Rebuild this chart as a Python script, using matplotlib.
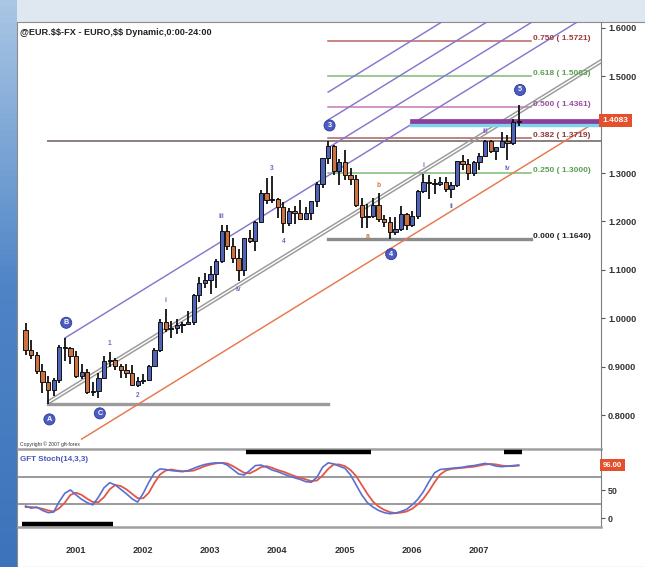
import numpy as np
import matplotlib.pyplot as plt
from matplotlib.patches import Rectangle
from matplotlib.colors import LinearSegmentedColormap
from matplotlib.transforms import blended_transform_factory

# ----------------------------
# Data (monthly EUR/USD, Jun 2000 .. Oct 2007)
# ----------------------------
START_YEAR, START_MONTH = 2000, 6

OPEN = [0.9750, 0.9350, 0.9250, 0.8900, 0.8680, 0.8510, 0.8720, 0.9400, 0.9380, 0.9220,
        0.8800, 0.8880, 0.8470, 0.8490, 0.8770, 0.9120, 0.9130, 0.9010, 0.8920, 0.8860,
        0.8610, 0.8700, 0.8720, 0.9020, 0.9340, 0.9920, 0.9770, 0.9800, 0.9870, 0.9890,
        0.9930, 1.0490, 1.0730, 1.0780, 1.0910, 1.1180, 1.1800, 1.1500, 1.1240, 1.0990,
        1.1650, 1.1590, 1.1990, 1.2590, 1.2440, 1.2470, 1.2300, 1.1970, 1.2210, 1.2170,
        1.2040, 1.2170, 1.2420, 1.2770, 1.3300, 1.3560, 1.3040, 1.3230, 1.2960, 1.2880,
        1.2330, 1.2100, 1.2120, 1.2340, 1.2050, 1.1990, 1.1790, 1.1840, 1.2160, 1.1920,
        1.2110, 1.2630, 1.2810, 1.2790, 1.2770, 1.2810, 1.2670, 1.2760, 1.3250, 1.3190,
        1.3010, 1.3230, 1.3360, 1.3660, 1.3450, 1.3530, 1.3670, 1.3630, 1.4050]
HIGH = [0.9900, 0.9550, 0.9300, 0.9050, 0.8800, 0.8770, 0.9450, 0.9590, 0.9400, 0.9320,
        0.9050, 0.8960, 0.8680, 0.8870, 0.9210, 0.9310, 0.9170, 0.9060, 0.9060, 0.9040,
        0.8780, 0.8850, 0.9030, 0.9390, 0.9990, 1.0190, 0.9950, 0.9980, 0.9920, 1.0140,
        1.0500, 1.0860, 1.0930, 1.1080, 1.1230, 1.1930, 1.1930, 1.1650, 1.1440, 1.1650,
        1.1820, 1.2010, 1.2650, 1.2900, 1.2930, 1.2480, 1.2400, 1.2270, 1.2320, 1.2440,
        1.2290, 1.2430, 1.2820, 1.3320, 1.3667, 1.3580, 1.3280, 1.3470, 1.3100, 1.2960,
        1.2480, 1.2370, 1.2480, 1.2580, 1.2140, 1.2090, 1.2100, 1.2320, 1.2180, 1.2210,
        1.2640, 1.2980, 1.2950, 1.2880, 1.2910, 1.2920, 1.2810, 1.3250, 1.3365, 1.3290,
        1.3240, 1.3420, 1.3680, 1.3680, 1.3530, 1.3850, 1.3790, 1.4120, 1.4400]
LOW = [0.9250, 0.9150, 0.8850, 0.8460, 0.8225, 0.8400, 0.8660, 0.9120, 0.9050, 0.8770,
       0.8740, 0.8440, 0.8400, 0.8350, 0.8750, 0.8990, 0.8920, 0.8760, 0.8760, 0.8600,
       0.8570, 0.8650, 0.8720, 0.8990, 0.9300, 0.9710, 0.9600, 0.9680, 0.9700, 0.9860,
       0.9870, 1.0340, 1.0620, 1.0500, 1.0620, 1.1150, 1.1400, 1.1150, 1.0760, 1.0870,
       1.1560, 1.1390, 1.1970, 1.2350, 1.2380, 1.2080, 1.1760, 1.1900, 1.1950, 1.2020,
       1.2040, 1.2020, 1.2290, 1.2700, 1.3180, 1.2950, 1.2760, 1.2850, 1.2750, 1.2300,
       1.1870, 1.1870, 1.2070, 1.1990, 1.1880, 1.1640, 1.1710, 1.1800, 1.1820, 1.1880,
       1.2060, 1.2580, 1.2460, 1.2560, 1.2740, 1.2610, 1.2480, 1.2710, 1.3070, 1.2860,
       1.2930, 1.3070, 1.3330, 1.3410, 1.3260, 1.3530, 1.3260, 1.3570, 1.3980]
CLOSE = [0.9350, 0.9250, 0.8900, 0.8680, 0.8510, 0.8720, 0.9400, 0.9380, 0.9220, 0.8800,
         0.8880, 0.8470, 0.8490, 0.8770, 0.9120, 0.9130, 0.9010, 0.8920, 0.8860, 0.8610,
         0.8700, 0.8720, 0.9020, 0.9340, 0.9920, 0.9770, 0.9800, 0.9870, 0.9890, 0.9930,
         1.0490, 1.0730, 1.0780, 1.0910, 1.1180, 1.1800, 1.1500, 1.1240, 1.0990, 1.1650,
         1.1590, 1.1990, 1.2590, 1.2440, 1.2470, 1.2300, 1.1970, 1.2210, 1.2170, 1.2040,
         1.2170, 1.2420, 1.2770, 1.3300, 1.3560, 1.3040, 1.3230, 1.2960, 1.2880, 1.2330,
         1.2100, 1.2120, 1.2340, 1.2050, 1.1990, 1.1790, 1.1840, 1.2160, 1.1920, 1.2110,
         1.2630, 1.2810, 1.2790, 1.2770, 1.2810, 1.2670, 1.2760, 1.3250, 1.3190, 1.3010,
         1.3230, 1.3360, 1.3660, 1.3450, 1.3530, 1.3670, 1.3630, 1.4050, 1.4083]

# GFT Stoch(14,3,3)
STOCH_K = [22, 18, 20, 14, 10, 11, 30, 45, 51, 42, 34, 28, 24, 38, 55, 64, 60, 52, 44, 35,
           29, 45, 65, 82, 89, 88, 86, 85, 84, 86, 90, 94, 97, 99, 100, 100, 96, 88, 80, 78,
           86, 95, 96, 92, 87, 84, 80, 76, 73, 70, 66, 65, 74, 92, 100, 98, 94, 90, 78, 60,
           42, 28, 20, 14, 10, 8, 9, 12, 16, 24, 34, 48, 66, 82, 88, 89, 90, 91, 92, 94,
           95, 97, 99, 97, 94, 93, 94, 95, 96]
STOCH_D = [20, 20, 19, 17, 14, 12, 18, 28, 42, 46, 42, 35, 29, 29, 38, 52, 60, 58, 52, 44,
           36, 36, 46, 64, 79, 86, 88, 86, 85, 85, 86, 90, 94, 97, 99, 100, 99, 94, 88, 82,
           81, 86, 92, 94, 91, 87, 84, 80, 76, 73, 70, 67, 68, 77, 89, 97, 97, 94, 87, 76,
           60, 44, 30, 21, 15, 11, 9, 10, 12, 17, 25, 35, 49, 65, 79, 86, 89, 90, 91, 92,
           93, 95, 97, 98, 97, 95, 94, 94, 95]
STOCH_LEVELS = [75, 25]
STOCH_TICKS = [0, 50]

# wave pivots (month, label, side)
CIRCLED = [("2000-10", "A", "low"), ("2001-01", "B", "high"), ("2001-07", "C", "low"),
           ("2004-12", "3", "high"), ("2005-11", "4", "low"), ("2007-10", "5", "high")]
SMALL_LABELS = [("2001-09", "1", "high", "purple"), ("2002-02", "2", "low", "purple"),
                ("2002-07", "i", "high", "purple"), ("2003-05", "iii", "high", "purple"),
                ("2003-08", "iv", "low", "purple"), ("2004-02", "3", "high", "purple"),
                ("2004-04", "4", "low", "purple"), ("2005-07", "a", "low", "orange"),
                ("2005-09", "b", "high", "orange"), ("2006-05", "i", "high", "purple"),
                ("2006-10", "ii", "low", "purple"), ("2007-04", "iii", "high", "purple"),
                ("2007-08", "iv", "low", "purple")]

# fib extension: wave A->3 projected from the 2005 low
FIB_RATIOS = [0.000, 0.250, 0.382, 0.500, 0.618, 0.750]
FIB_COLORS = ["#8c8c8c", "#7dbb74", "#b06060", "#c57ab8", "#7dbb74", "#b86464"]
FIB_TEXT = ["#222222", "#5a9f52", "#8a3a3a", "#9a4a9a", "#5a9f52", "#9a3a3a"]

# parallel channel: slope (price per month), lines as multiples of the A->B width
CHANNEL_SLOPE = 0.00714
CHANNEL_MULT = [-1.0, 0.0, 1.0, 1.5, 2.0, 2.5]
CHANNEL_START = ["2001-04", "2000-10", "2001-01", "2004-12", "2004-12", "2004-12"]
CHANNEL_COLORS = ["#e8774f", "#9a9a9a", "#8577cc", "#8577cc", "#8577cc", "#8577cc"]

ZONE_LEVELS = [1.4083, 1.3985]
ZONE_START = "2006-03"
ZONE_COLORS = ["#8a3f9a", "#7fd3ea"]

STOCH_BARS = [("2003-10", "2005-07", "top"), ("2007-08", "2007-10", "top"),
              ("2000-06", "2001-09", "bottom")]

YEARS = [2001, 2002, 2003, 2004, 2005, 2006, 2007]
TITLE = "@EUR.\\$\\$-FX - EURO,\\$\\$ Dynamic,0:00-24:00"

UP_COLOR = "#4f64b8"
DOWN_COLOR = "#cc7240"
PURPLE = "#7465c2"


def month_index(label: str) -> int:
    y, m = label.split("-")
    return (int(y) - START_YEAR) * 12 + int(m) - START_MONTH


def draw_candles(ax):
    for i in range(len(OPEN)):
        o, h, l, c = OPEN[i], HIGH[i], LOW[i], CLOSE[i]
        ax.vlines(i, l, h, color="#111111", lw=1.3, zorder=4)
        col = UP_COLOR if c >= o else DOWN_COLOR
        ax.add_patch(Rectangle((i - 0.38, min(o, c)), 0.76, max(abs(c - o), 0.002),
                               facecolor=col, edgecolor="#111111", lw=0.7, zorder=5))


def draw_channel(ax, x_end):
    ia = month_index("2000-10")
    ib = month_index("2001-01")
    width = HIGH[ib] - (LOW[ia] + CHANNEL_SLOPE * (ib - ia))

    def base(x):
        return LOW[ia] + CHANNEL_SLOPE * (x - ia)

    for k, start, col in zip(CHANNEL_MULT, CHANNEL_START, CHANNEL_COLORS):
        xx = np.array([month_index(start), x_end])
        yy = base(xx) + k * width
        ax.plot(xx, yy, color=col, lw=1.05, zorder=2)
        if k == 0:
            # second rail of the grey double line
            ax.plot(xx, yy + 0.007, color=col, lw=1.05, zorder=2)


def draw_levels(ax, x_end):
    ia = month_index("2000-10")
    i3 = month_index("2004-12")
    i4 = month_index("2005-11")
    # horizontals at A low and the 2004 high
    ax.plot([ia, i3], [LOW[ia]] * 2, color="#9b9b9b", lw=2.4, zorder=1)
    ax.plot([ia, x_end], [HIGH[i3]] * 2, color="#8a8080", lw=1.4, zorder=1)

    wave = HIGH[i3] - LOW[ia]
    label_x = 90.5
    for r, lc, tc in zip(FIB_RATIOS, FIB_COLORS, FIB_TEXT):
        p = LOW[i4] + r * wave
        lw = 2.4 if r == 0 else 1.1
        ax.plot([i3, label_x - 0.3], [p, p], color=lc, lw=lw, zorder=1)
        ax.text(label_x, p + 0.005, f"{r:.3f} ( {p:.4f})", color=tc, fontsize=6.0,
                fontweight="bold", va="center", ha="left", zorder=6)

    iz = month_index(ZONE_START)
    ax.plot([iz, x_end], [ZONE_LEVELS[1]] * 2, color=ZONE_COLORS[1], lw=3.2, zorder=3)
    ax.plot([iz, x_end], [ZONE_LEVELS[0]] * 2, color=ZONE_COLORS[0], lw=3.4, zorder=3)


def draw_pivots(ax):
    for lab, txt, side in CIRCLED:
        i = month_index(lab)
        y = HIGH[i] if side == "high" else LOW[i]
        off = 11 if side == "high" else -11
        ax.annotate(txt, (i, y), xytext=(1, off), textcoords="offset points",
                    ha="center", va="center", fontsize=5.2, color="white", fontweight="bold",
                    bbox=dict(boxstyle="circle,pad=0.28", fc="#4b5cc4", ec="#2d3a8c", lw=0.6),
                    zorder=7)
    for lab, txt, side, col in SMALL_LABELS:
        i = month_index(lab)
        y = HIGH[i] if side == "high" else LOW[i]
        off = 6 if side == "high" else -6
        c = PURPLE if col == "purple" else "#e0703a"
        ax.annotate(txt, (i, y), xytext=(0, off), textcoords="offset points",
                    ha="center", va="center", fontsize=4.8, color=c, fontweight="bold",
                    zorder=7)


def main():
    plt.rcParams["font.family"] = ["Liberation Sans", "DejaVu Sans"]
    fig = plt.figure(figsize=(6.45, 5.67), dpi=100)
    fig.patch.set_facecolor("#dfe8f1")

    # left blue strip
    strip = fig.add_axes([0, 0, 17 / 645, 1], zorder=-5)
    grad = np.linspace(0, 1, 100)[:, None]
    cmap = LinearSegmentedColormap.from_list("s", ["#a9c6e4", "#4f85c7", "#3d73ba"])
    strip.imshow(grad, aspect="auto", cmap=cmap, extent=[0, 1, 0, 1])
    strip.axis("off")
    fig.patches.append(Rectangle((17 / 645, 0), 1, 545 / 567, transform=fig.transFigure,
                                 facecolor="white", edgecolor="#8c8c8c", lw=0.8, zorder=-4))

    left, width = 18 / 645, 583 / 645
    ax = fig.add_axes([left, 1 - 449 / 567, width, 427 / 567])
    osc = fig.add_axes([left, 1 - 527 / 567, width, 78 / 567], sharex=ax)
    for a in (ax, osc):
        a.set_facecolor("none")
        for s in ("left", "top"):
            a.spines[s].set_visible(False)
        a.spines["right"].set_color("#7f7f7f")
        a.spines["bottom"].set_color("#a0a0a0")
        a.spines["bottom"].set_linewidth(1.8)

    n = len(OPEN)
    x_end = 102.7
    ax.set_xlim(-1.36, x_end)
    ax.set_ylim(0.7298, 1.612)

    draw_levels(ax, x_end)
    draw_channel(ax, x_end)
    draw_candles(ax)
    draw_pivots(ax)

    # the 1.4000 label sits under the last-price box, as in the source chart
    ticks = [0.8, 0.9, 1.0, 1.1, 1.2, 1.3, 1.5, 1.6]
    ax.yaxis.tick_right()
    ax.set_yticks(ticks)
    ax.set_yticklabels([f"{v:.4f}" for v in ticks], fontsize=6.6,
                       fontweight="bold", color="#333333")
    ax.tick_params(axis="y", length=3, color="#555555", pad=2)
    ax.tick_params(axis="x", length=0, labelbottom=False)

    tr = blended_transform_factory(ax.transAxes, ax.transData)
    ax.text(1.003, CLOSE[-1], f"{CLOSE[-1]:.4f}", transform=tr, fontsize=6.0, color="white",
            fontweight="bold", va="center", ha="left", zorder=10, clip_on=False,
            bbox=dict(boxstyle="square,pad=0.4", fc="#e4502c", ec="none"))

    ax.text(0.004, 0.985, TITLE, transform=ax.transAxes, fontsize=6.6, fontweight="bold",
            color="#222222", va="top", ha="left")
    ax.text(0.004, 0.005, "Copyright © 2007 gft-forex", transform=ax.transAxes, fontsize=3.6,
            color="#333333", va="bottom", ha="left")

    # oscillator
    xs = np.arange(n)
    osc.set_ylim(-16, 125)
    for lv in STOCH_LEVELS:
        osc.axhline(lv, color="#9a9a9a", lw=1.4, zorder=1)
    osc.plot(xs, STOCH_D, color="#e2564a", lw=1.3, zorder=3)
    osc.plot(xs, STOCH_K, color="#5a6fd0", lw=1.2, zorder=4)
    for a, b, pos in STOCH_BARS:
        yv = 120 if pos == "top" else -11
        osc.plot([month_index(a) - 0.6, month_index(b) + 0.6], [yv, yv], color="black",
                 lw=3.2, solid_capstyle="butt", zorder=5)
    osc.text(0.004, 0.86, "GFT Stoch(14,3,3)", transform=osc.transAxes, fontsize=5.8,
             fontweight="bold", color="#4a55b8", va="center", ha="left")
    osc.yaxis.tick_right()
    osc.set_yticks(STOCH_TICKS)
    osc.set_yticklabels([str(t) for t in STOCH_TICKS], fontsize=6.4, fontweight="bold",
                        color="#333333")
    osc.tick_params(axis="y", length=3, color="#555555", pad=2)
    otr = blended_transform_factory(osc.transAxes, osc.transData)
    osc.text(1.003, STOCH_K[-1], f"{STOCH_K[-1]:.2f}", transform=otr, fontsize=5.6,
             color="white", fontweight="bold", va="center", ha="left", clip_on=False,
             bbox=dict(boxstyle="square,pad=0.35", fc="#e4502c", ec="none"), zorder=10)

    year_pos = [month_index(f"{y}-01") + 1.9 for y in YEARS]
    osc.set_xticks(year_pos)
    osc.set_xticklabels([str(y) for y in YEARS], fontsize=6.6, fontweight="bold",
                        color="#333333")
    osc.tick_params(axis="x", length=0, pad=14)

    fig.savefig("out.png", dpi=100, facecolor=fig.get_facecolor())


if __name__ == "__main__":
    main()
